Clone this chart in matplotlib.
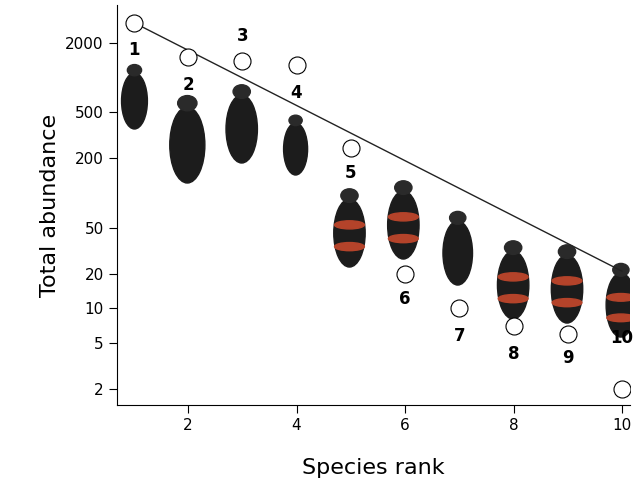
import matplotlib.pyplot as plt
from matplotlib.patches import Ellipse
import numpy as np

rank = [1, 2, 3, 4, 5, 6, 7, 8, 9, 10]
abundance = [3000, 1500, 1400, 1290, 245, 20, 10, 7, 6, 2]
fit_ends = [3000, 21]
# label offsets (points) for the rank numbers
label_off = [(0, -20), (0, -20), (0, 18), (0, -20), (0, -18), (0, -18), (0, -20), (0, -20), (0, -17), (0, 37)]
# beetle decorations: centre (axes fraction), size, banded?
beetle_x = [0.034, 0.137, 0.243, 0.348, 0.453, 0.558, 0.664, 0.772, 0.877, 0.982]
beetle_y = [0.76, 0.65, 0.69, 0.64, 0.43, 0.45, 0.38, 0.30, 0.29, 0.25]
beetle_h = [0.14, 0.19, 0.17, 0.13, 0.17, 0.17, 0.16, 0.17, 0.17, 0.16]
banded = [False, False, False, False, True, True, False, True, True, True]

fig = plt.figure(figsize=(6.43, 4.94), dpi=100)
ax = fig.add_axes([0.182, 0.18, 0.798, 0.81])
ax.set_yscale("log")
ax.set_xlim(0.69, 10.15)
ax.set_ylim(1.45, 4270)

for x, y, h, b in zip(beetle_x, beetle_y, beetle_h, banded):
    w = h * 0.36
    ax.add_patch(Ellipse((x, y), w, h, transform=ax.transAxes, color="#1c1c1c", zorder=1))
    ax.add_patch(Ellipse((x, y + h * 0.55), w * 0.55, h * 0.2, transform=ax.transAxes, color="#2a2a2a", zorder=1))
    if b:
        for dy in (-0.2, 0.12):
            ax.add_patch(Ellipse((x, y + dy * h), w * 0.95, h * 0.12, transform=ax.transAxes,
                                 color="#b4432a", zorder=2))

ax.plot([1, 10], fit_ends, color="#222222", lw=1, zorder=3)
ax.scatter(rank, abundance, s=150, facecolor="white", edgecolor="black", lw=0.8, zorder=4)
for r, a, off in zip(rank, abundance, label_off):
    ax.annotate(str(r), (r, a), xytext=off, textcoords="offset points", ha="center", va="center",
                fontsize=12, fontweight="bold", zorder=5)

ax.set_yticks([2, 5, 10, 20, 50, 200, 500, 2000])
ax.set_yticklabels(["2", "5", "10", "20", "50", "200", "500", "2000"])
ax.minorticks_off()
ax.set_xticks([2, 4, 6, 8, 10])
ax.tick_params(labelsize=11, length=6)
ax.spines["top"].set_visible(False)
ax.spines["right"].set_visible(False)
ax.set_xlabel("Species rank", fontsize=16, labelpad=18)
ax.set_ylabel("Total abundance", fontsize=16)

plt.savefig("out.png", dpi=100)
